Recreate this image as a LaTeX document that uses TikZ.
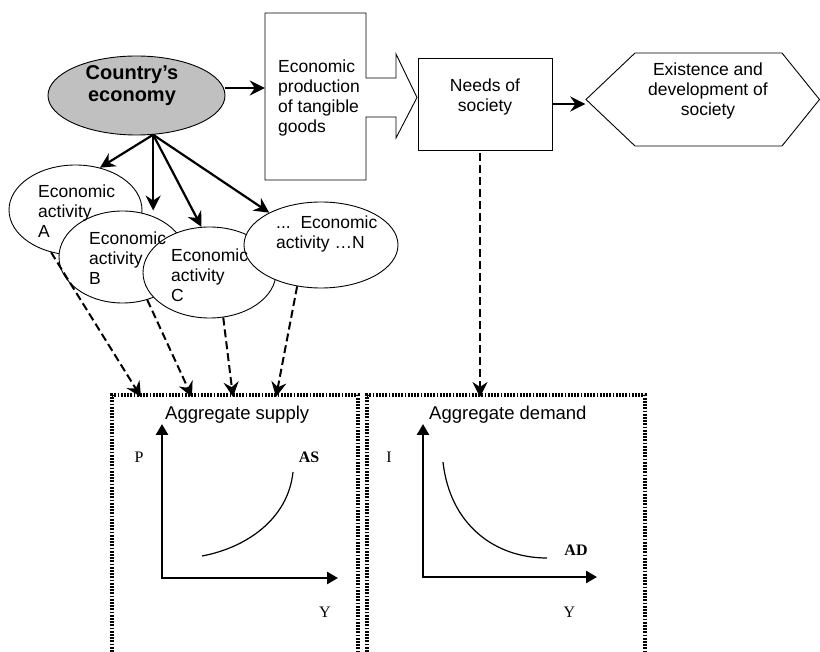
\documentclass[tikz,border=0pt]{standalone}
\usepackage{fontspec}
\setmainfont{Liberation Sans}
\newfontfamily\tnr{Liberation Serif}
\usetikzlibrary{arrows.meta,shapes.geometric}
\definecolor{egray}{HTML}{C0C0C0}
\newcommand\LftLines[1]{\vtop{\halign{##\hfil\cr#1\crcr}}}
\newcommand\CtrLines[1]{\vtop{\halign{\hfil##\hfil\cr#1\crcr}}}
\tikzset{
  lbl/.style={font=\fontsize{17.5}{20}\selectfont, inner sep=0pt},
  biglbl/.style={font=\fontsize{18.5}{20}\selectfont, inner sep=0pt, anchor=base west},
  gl/.style={font=\tnr\fontsize{16}{18}\selectfont, inner sep=0pt, anchor=base},
  glb/.style={font=\tnr\bfseries\fontsize{16}{18}\selectfont, inner sep=0pt, anchor=base},
  oval/.style={draw, ellipse, fill=white, line width=0.9pt, inner sep=0pt},
  shapeline/.style={line width=0.9pt},
  ghost/.style={inner sep=0pt},
  solidarrow/.style={line width=2.2pt, -{Stealth[length=15pt,width=15pt,inset=5pt]}},
  dasharrow/.style={line width=2pt, dash pattern=on 8pt off 4pt, -{Stealth[length=15pt,width=15pt,inset=5pt]}},
  dotbox/.style={line width=3.3pt, dash pattern=on 1.8pt off 1.4pt},
  axis/.style={line width=2.6pt, {Triangle[length=11pt,width=12pt]}-{Triangle[length=11pt,width=12pt]}},
  curve/.style={line width=1.2pt},
}
\begin{document}
\begin{tikzpicture}[x=1pt,y=-1pt]
\fill[white] (0,0) rectangle (820,652);
\useasboundingbox (0,0) rectangle (820,652);

% top row
\node[oval, fill=egray, minimum width=177pt, minimum height=79pt] (ce) at (136.5,95.5) {};
\node[font=\bfseries\fontsize{20}{21.5}\selectfont, inner sep=0pt, anchor=base] (tce) at (132,80) {\CtrLines{Country’s\cr economy}};

\draw[shapeline] (265,13) -- (366,13) -- (366,78) -- (396,78) -- (396,54) -- (417,97.5) -- (396,138) -- (396,117) -- (366,117) -- (366,180) -- (265,180) -- cycle;
\node[ghost, minimum width=101pt, minimum height=167pt] (prod) at (315.5,96.5) {};
\node[lbl, anchor=base west] (tprod) at (278,73) {\LftLines{Economic\cr production\cr of tangible\cr goods}};

\node[draw, shapeline, ghost, minimum width=134pt, minimum height=92pt] (needs) at (485,104) {};
\node[lbl, anchor=base] (tneeds) at (485,92) {\CtrLines{Needs of\cr society}};

\draw[shapeline] (586,99.5) -- (635,53) -- (782,53) -- (819.5,99.5) -- (782,146) -- (635,146) -- cycle;
\node[ghost, minimum width=234pt, minimum height=93pt] (hex) at (702.5,99.5) {};
\node[lbl, anchor=base] (thex) at (708,76) {\CtrLines{Existence and\cr development of\cr society}};

\draw[solidarrow] ([yshift=7.5pt]ce.east) -- ([yshift=8.5pt]prod.west);
\draw[solidarrow] (needs.east) -- (hex.west |- needs.east);

% activities
\node[oval, minimum width=133pt, minimum height=90pt] (eA) at (75.5,210) {};
\node[oval, minimum width=127pt, minimum height=92pt] (eB) at (122.5,257) {};
\node[oval, minimum width=133pt, minimum height=91pt] (eC) at (209.5,272.5) {};
\node[oval, minimum width=154pt, minimum height=86pt] (eN) at (321,245) {};
\node[lbl, anchor=base west] (tA) at (38,198) {\LftLines{Economic\cr activity\cr A}};
\node[lbl, anchor=base west] (tB) at (89,245) {\LftLines{Economic\cr activity\cr B}};
\node[lbl, anchor=base west] (tC) at (171,262) {\LftLines{Economic\cr activity\cr C}};
\node[lbl, anchor=base west] (tN) at (276,229) {\LftLines{...\ \ Economic\cr activity …N}};

\coordinate (src) at (ce.-67);
\draw[solidarrow] (src) -- (eA.60);
\draw[solidarrow] (src) -- (src |- eB.north);
\draw[solidarrow] (src) -- (eC.100);
\draw[solidarrow] (src) -- (eN.148);

% dashed connectors
\coordinate (s1) at (141,397);
\coordinate (s2) at (192,397);
\coordinate (s3) at (233,397);
\coordinate (s4) at (276,397);
\coordinate (d1) at (480,397);
\draw[dasharrow] (eA.240) -- (s1);
\draw[dasharrow] (eB.300) -- (s2);
\draw[dasharrow] (eC.287) -- (s3);
\draw[dasharrow] (eN.240) -- (s4);
\draw[dasharrow] ([xshift=-5pt,yshift=-3pt]needs.south) -- (d1);

% bottom boxes
\draw[dotbox] (112,655) -- (112,395) -- (358,395) -- (358,655);
\draw[dotbox] (367,655) -- (367,395) -- (645,395) -- (645,655);
\node[biglbl] (tas) at (165,420) {Aggregate supply};
\node[biglbl] (tad) at (429,420) {Aggregate demand};

% AS graph
\coordinate (o1) at (162,578);
\coordinate (y1) at (162,424);
\coordinate (x1) at (338,578);
\draw[axis] (y1) -- (o1) -- (x1);
\draw[curve] (202,556) .. controls (245,548) and (288,520) .. (293,472);
\node[gl] (lP) at (139,463) {P};
\node[glb] (lAS) at (309,463) {AS};
\node[gl] (lY1) at (325,617) {Y};

% AD graph
\coordinate (o2) at (423,577);
\coordinate (y2) at (423,424);
\coordinate (x2) at (597,577);
\draw[axis] (y2) -- (o2) -- (x2);
\draw[curve] (443,462) .. controls (450,525) and (495,558) .. (547,558);
\node[gl] (lI) at (389,463) {I};
\node[glb] (lAD) at (576,555) {AD};
\node[gl] (lY2) at (569.5,617) {Y};
\end{tikzpicture}
\end{document}
